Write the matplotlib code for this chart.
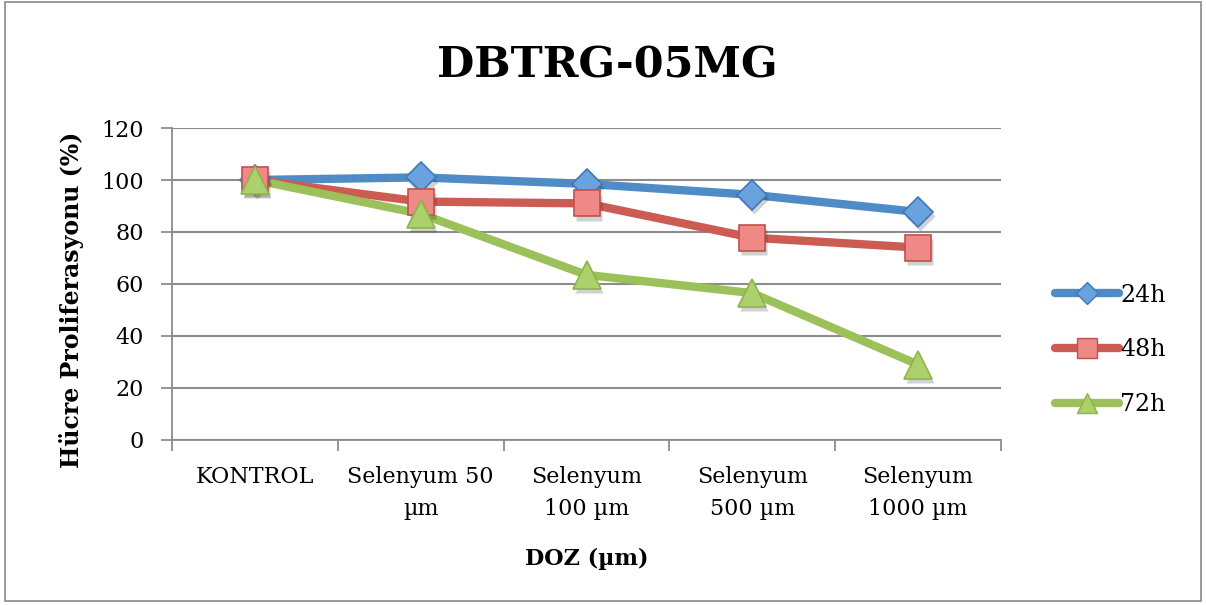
import matplotlib
matplotlib.use("Agg")
import matplotlib.pyplot as plt
from matplotlib.lines import Line2D
from matplotlib.patches import Rectangle
from matplotlib.transforms import ScaledTranslation

categories = ["KONTROL", "Selenyum 50\nµm", "Selenyum\n100 µm", "Selenyum\n500 µm", "Selenyum\n1000 µm"]
h24 = [100, 101, 98.5, 94.3, 87.7]
h48 = [100, 91.7, 91, 77.8, 74]
h72 = [100, 87, 63.5, 56.5, 29]
series_labels = ["24h", "48h", "72h"]
y_ticks = [0, 20, 40, 60, 80, 100, 120]

plt.rcParams["font.family"] = ["DejaVu Serif"]

fig = plt.figure(figsize=(12.06, 6.05), dpi=100)
fig.patches.append(Rectangle((0.004, 0.006), 0.992, 0.99, transform=fig.transFigure,
                             fill=False, edgecolor="#8a8a8a", linewidth=1.2))

ax = fig.add_axes([172 / 1206, 165 / 605, 829 / 1206, 312 / 605])

styles = [
    dict(color="#4f8bc6", marker="D", mfc="#6aa2de", mec="#3f78b6", ms=15),
    dict(color="#cc5b53", marker="s", mfc="#ef8985", mec="#c0504d", ms=19),
    dict(color="#9dc15a", marker="^", mfc="#acd06b", mec="#8fb24c", ms=20),
]
x = list(range(len(categories)))
for vals, st in zip([h24, h48, h72], styles):
    ax.plot(x, vals, color=st["color"], linewidth=6, solid_capstyle="round", zorder=3)

# soft drop shadow under each marker
shadow_tf = ax.transData + ScaledTranslation(1.5 / 72, -3 / 72, fig.dpi_scale_trans)
for vals, st in zip([h24, h48, h72], styles):
    ax.plot(x, vals, linestyle="none", marker=st["marker"], markersize=st["ms"],
            markerfacecolor="#000000", markeredgecolor="none", alpha=0.18,
            transform=shadow_tf, zorder=3.5)
    ax.plot(x, vals, linestyle="none", marker=st["marker"], markersize=st["ms"],
            markerfacecolor=st["mfc"], markeredgecolor=st["mec"], markeredgewidth=1.2,
            zorder=4)

ax.set_xlim(-0.5, len(categories) - 0.5)
ax.set_ylim(0, 120)
ax.set_yticks(y_ticks)
ax.yaxis.grid(True, color="#8c8c8c", linewidth=1.5)
ax.set_axisbelow(True)
for s in ["top", "right"]:
    ax.spines[s].set_visible(False)
for s in ["left", "bottom"]:
    ax.spines[s].set_color("#8c8c8c")
    ax.spines[s].set_linewidth(1.3)

ax.set_xticks([i - 0.5 for i in range(len(categories) + 1)])
ax.set_xticklabels([])
ax.set_xticks(x, minor=True)
ax.set_xticklabels(categories, minor=True, fontsize=16, linespacing=1.55)
ax.tick_params(axis="x", which="major", length=8, width=1.3, color="#8c8c8c", direction="out")
ax.tick_params(axis="x", which="minor", length=0, pad=19)
ax.tick_params(axis="y", length=8, width=1.3, color="#8c8c8c", labelsize=16, pad=12)

ax.set_ylabel("Hücre Proliferasyonu (%)", fontsize=17, fontweight="bold")
ax.yaxis.set_label_coords(-0.106, 0.449)
ax.set_xlabel("DOZ (µm)", fontsize=16, fontweight="bold", labelpad=20)
fig.text(607 / 1206, 1 - 65 / 605, "DBTRG-05MG", ha="center", va="center",
         fontsize=31, fontweight="bold")

handles = [Line2D([0], [0], color=st["color"], linewidth=6, solid_capstyle="round",
                  marker=st["marker"], markersize=st["ms"] * 0.75,
                  markerfacecolor=st["mfc"], markeredgecolor=st["mec"])
           for st in styles]
fig.legend(handles, series_labels, loc="center left", bbox_to_anchor=(1034 / 1206, 1 - 350 / 605),
           frameon=False, fontsize=17, handlelength=2.7, handletextpad=0.05, labelspacing=1.35)

fig.savefig("out.png", dpi=100)
